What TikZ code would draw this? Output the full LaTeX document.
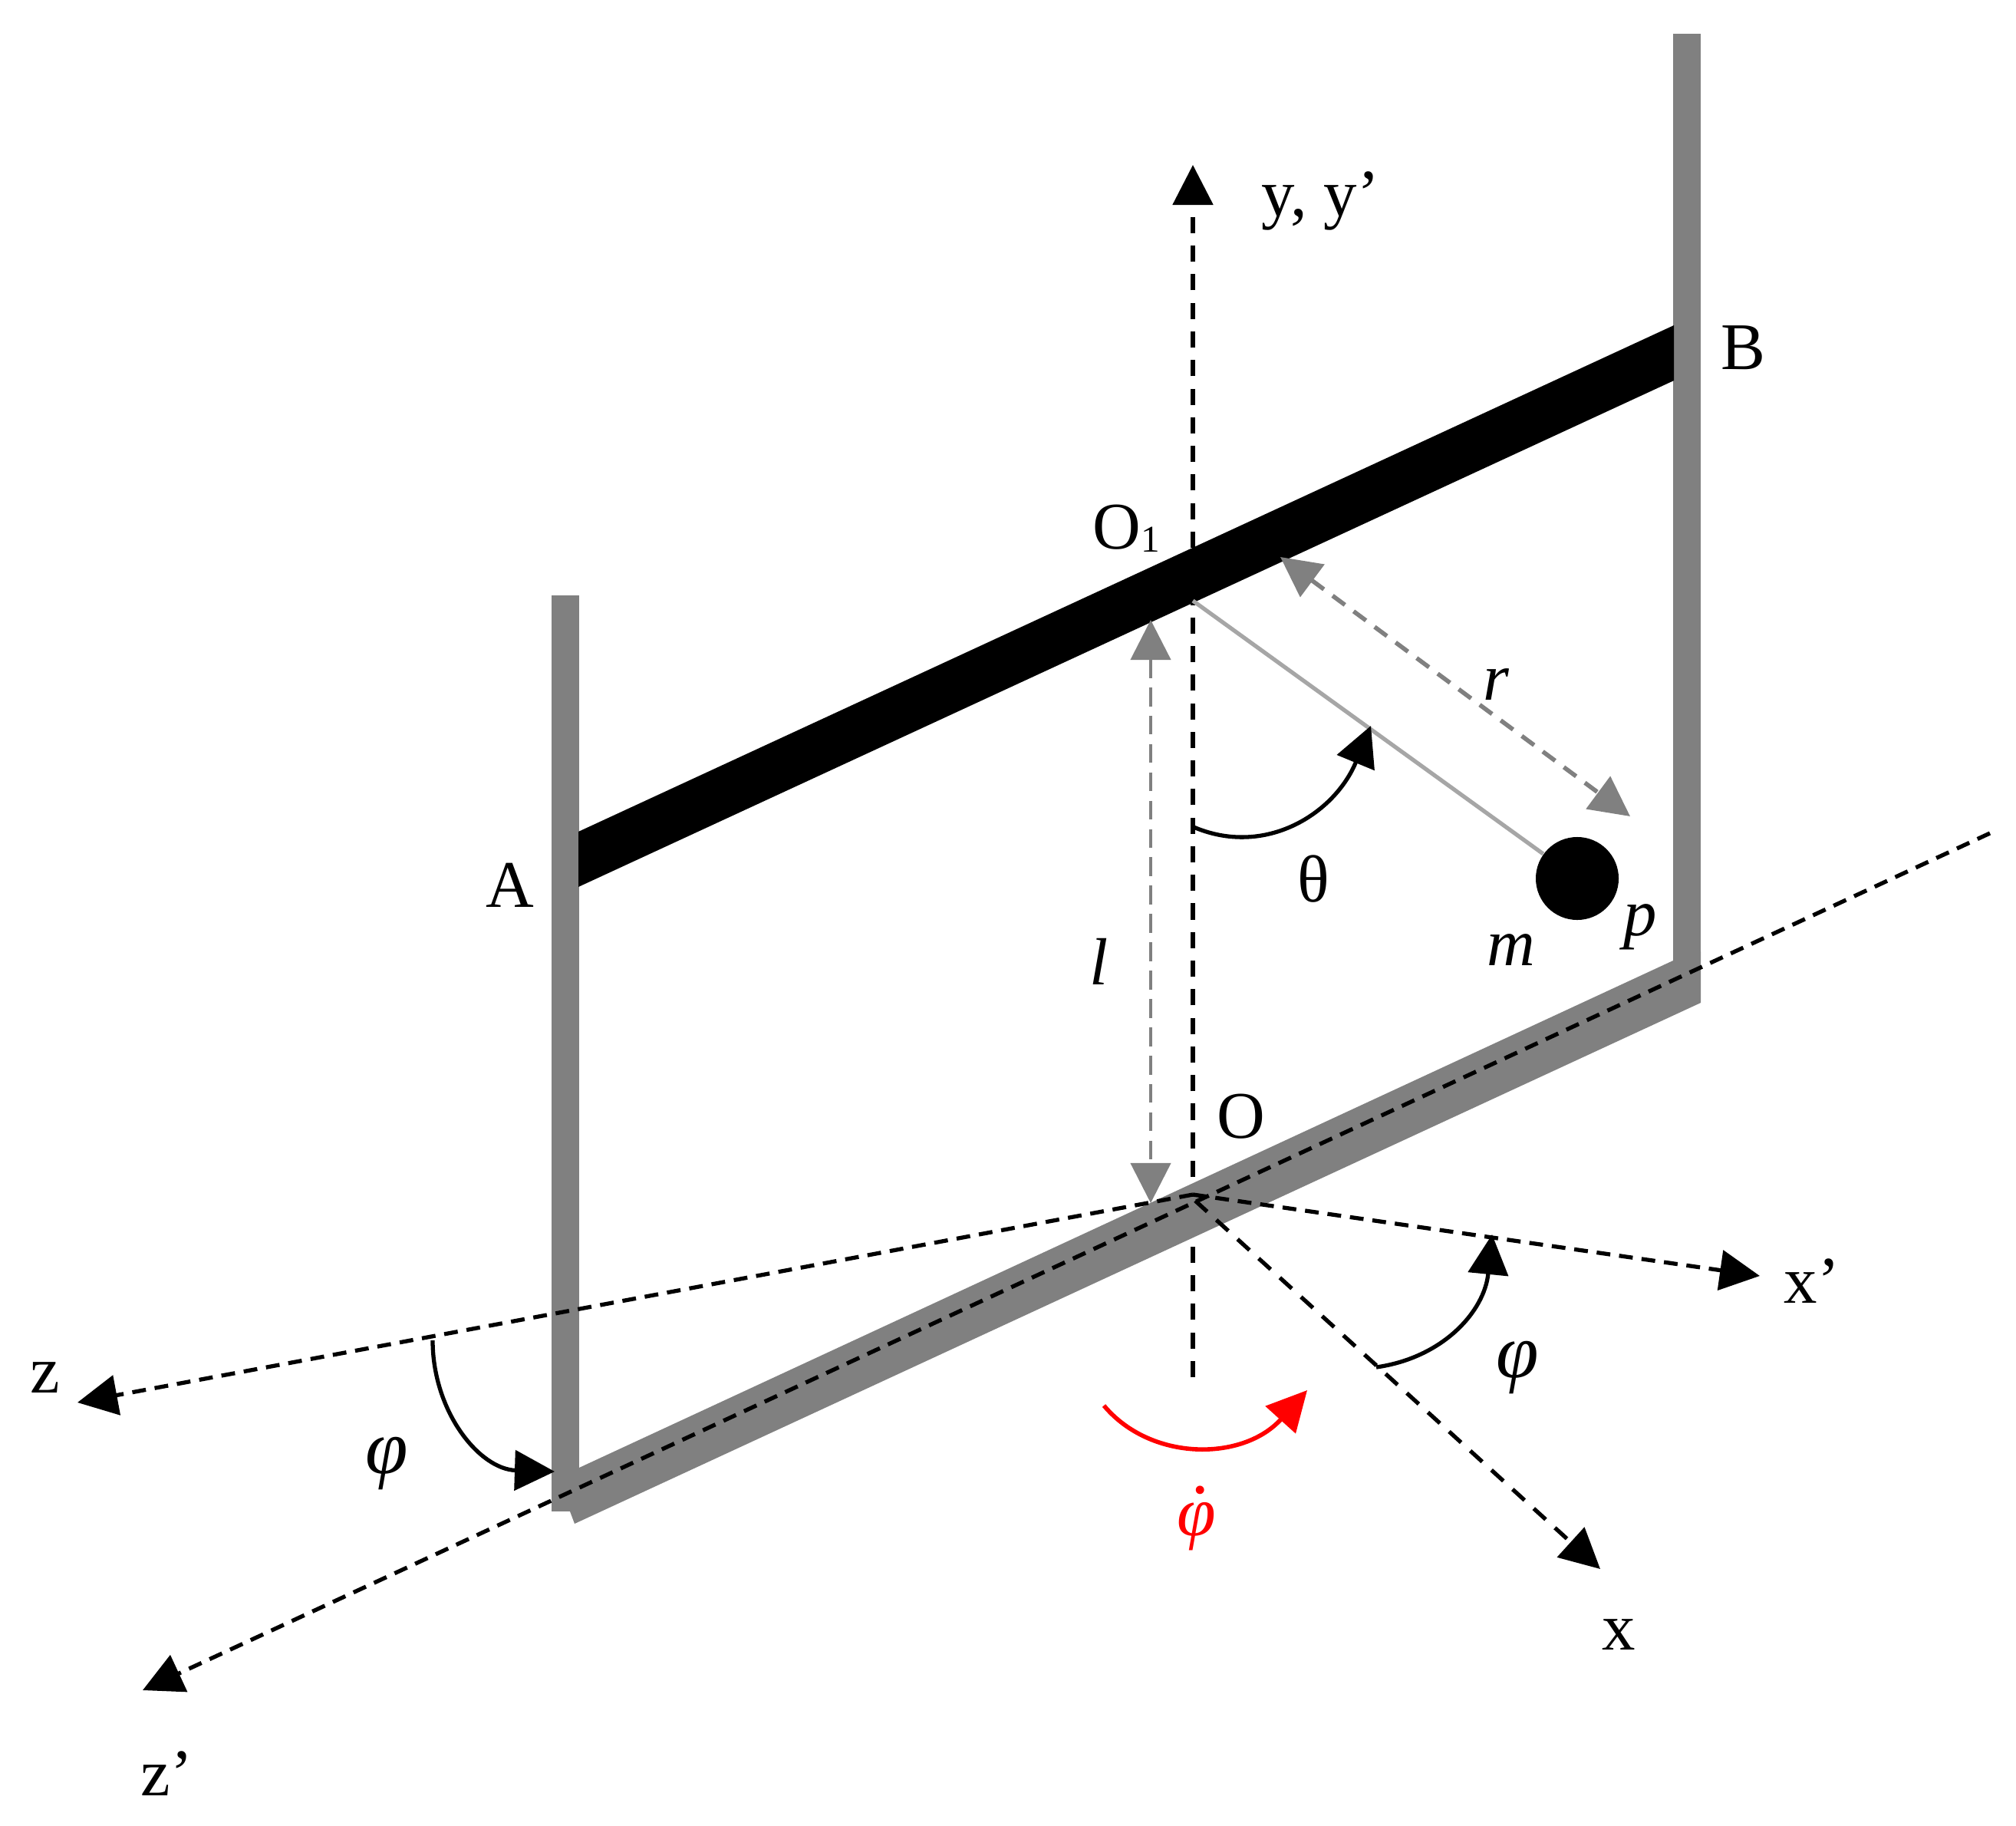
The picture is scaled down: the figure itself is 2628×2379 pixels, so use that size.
\documentclass[tikz,border=0pt]{standalone}
\usepackage{fontspec}
\setmainfont{Liberation Serif}
\usetikzlibrary{arrows.meta}
\definecolor{postgrey}{HTML}{808080}
\definecolor{rodgrey}{HTML}{A6A6A6}
\tikzset{
  headtip/.tip={Triangle[length=0.52cm,width=0.52cm]},
  axisA/.style={line width=1.5pt,dash pattern=on 5.1pt off 3.3pt,-headtip},
  axisB/.style={line width=1.5pt,dash pattern=on 6pt off 4.6pt,-headtip},
  dimA/.style={postgrey,line width=1.2pt,dash pattern=on 7pt off 3.5pt,headtip-headtip},
  dimB/.style={postgrey,line width=1.6pt,dash pattern=on 5.7pt off 4pt,headtip-headtip},
  angarc/.style={line width=1.5pt,-headtip},
  beam/.style={fill=postgrey,draw=none},
  lab/.style={inner sep=0pt,anchor=base,font=\fontsize{24.7}{30}\selectfont},
  labw/.style={lab,anchor=base west},
  labphi/.style={lab,font=\fontsize{28.5}{32}\selectfont\itshape},
}
\begin{document}
\begin{tikzpicture}[x=0.01cm,y=-0.01cm]
\useasboundingbox (0,0) rectangle (2628,2379);
% reference points
\coordinate (yfoot) at (1555,1795);
\coordinate (ytop) at (1555,215);
\coordinate (orig) at (1555,1557);
\coordinate (origb) at (1558,1565);
\coordinate (ztip) at (101,1828);
\coordinate (xptip) at (2294,1663);
\coordinate (xtip) at (2086,2045);
\coordinate (zpfar) at (2594,1086);
\coordinate (zptip) at (186,2203);
\coordinate (o1) at (1555,783);
% vertical axis, behind the frame
\draw[axisA,dash pattern=on 6pt off 4.6pt] (yfoot) -- (ytop);
% frame
\fill[beam] (743,1970) -- (749,1986) -- (2217,1307) -- (2217,1240) -- (2181,1252) -- (755,1913) -- cycle;
\fill[beam] (719,776) rectangle (755,1970);
\fill[beam] (2181,44) rectangle (2217,1307);
\fill[black] (754,1084) -- (2182,424) -- (2182,496) -- (754,1156) -- cycle;
% pendulum
\node[circle,fill=black,inner sep=0pt,minimum size=1.08cm] (ball) at (2056,1145) {};
\draw[rodgrey,line width=1.5pt] (o1) -- (ball);
% dimension arrows
\coordinate (la) at (1500,808);
\coordinate (lb) at (1500,1568);
\draw[dimA] (la) -- (lb);
\coordinate (ra) at (1669,726);
\coordinate (rb) at (2125,1064);
\draw[dimB] (ra) -- (rb);
% axes
\draw[axisA] (orig) -- (ztip);
\draw[axisA] (orig) -- (xptip);
\draw[axisB] (origb) -- (xtip);
\draw[axisA] (zpfar) -- (zptip);
% angle arcs
\coordinate (tha) at (1556,1078);
\coordinate (thb) at (1787,946);
\draw[angarc] (tha) .. controls (1650,1118) and (1740,1060) .. (thb);
\coordinate (pra) at (1794,1782);
\coordinate (prb) at (1945,1609);
\draw[angarc] (pra) .. controls (1880,1770) and (1935,1710) .. (prb);
\coordinate (pla) at (564,1747);
\coordinate (plb) at (723,1918);
\draw[angarc] (pla) .. controls (564,1840) and (625,1915) .. (plb);
\coordinate (rda) at (1439,1832);
\coordinate (rdb) at (1704,1812);
\draw[angarc,red,line width=1.6pt] (rda) .. controls (1500,1905) and (1620,1905) .. (rdb);
% labels
\node[labw] (lyy) at (1644,282) {y, y’};
\node[labw] (lB) at (2243,481) {B};
\node[labw] (lA) at (633,1182) {A};
\node[labw] (lO1) at (1424,715) {O\raisebox{-1.2pt}{\fontsize{14}{16}\selectfont 1}};
\node[labw] (lO) at (1586,1483) {O};
\node[lab] (lth) at (1712,1175) {θ};
\node[lab] (lr) at (1950,912) {\itshape r};
\node[lab] (lm) at (1970,1258) {\itshape m};
\node[lab] (lp) at (2138,1219) {\itshape p};
\node[lab] (ll) at (1433,1283) {\itshape l};
\node[labphi] (lpr) at (1978,1795) {φ};
\node[labphi] (lpl) at (504,1920) {φ};
\node[labphi,text=red,font=\fontsize{26}{30}\selectfont\itshape] (lpd) at (1560,2001) {φ\rlap{\hspace{-0.33em}\raisebox{0.6em}{.}}};
\node[labw] (lxp) at (2325,1698) {x’};
\node[labw] (lx) at (2088,2150) {x};
\node[labw] (lz) at (39,1815) {z};
\node[labw] (lzp) at (183,2340) {z’};
\end{tikzpicture}
\end{document}
